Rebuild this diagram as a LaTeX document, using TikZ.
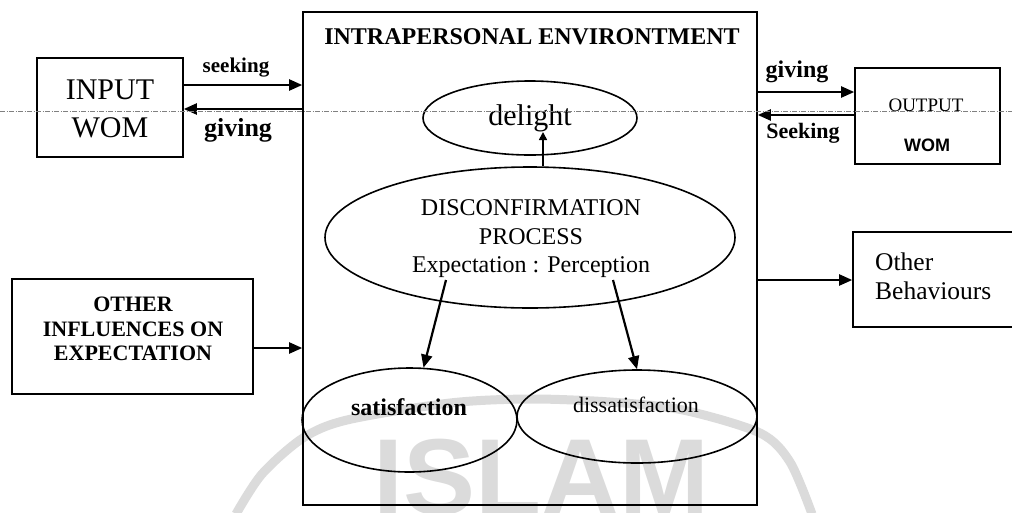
\documentclass[tikz,border=0pt]{standalone}
\usepackage{fontspec}
\setmainfont{Liberation Serif}
\newfontfamily\sansfam{Liberation Sans}
\usetikzlibrary{arrows.meta,shapes.geometric}
\begin{document}
\begin{tikzpicture}[x=1pt,y=-1pt,
  box/.style={draw,line width=1.6pt,rectangle,inner sep=0pt},
  oval/.style={draw,line width=1.6pt,ellipse,inner sep=0pt},
  txt/.style={inner sep=0pt,align=center},
  arr/.style={line width=2.2pt,-{Triangle[length=13pt,width=11pt]}},
  smallarr/.style={line width=1.6pt,-{Triangle[length=8pt,width=8pt]}},
  sealmark/.style={black!14}]
\useasboundingbox (0,0) rectangle (1012,512);

% faint seal in the background
\node[sealmark,inner sep=0pt,anchor=base,font=\sansfam\bfseries\fontsize{108}{108}\selectfont] (seal) at (541,514) {ISLAM};
\draw[sealmark,line width=9pt] plot[smooth] coordinates {(236,514) (262,474) (303,438) (347,420) (450,403) (530,399) (610,402) (683,410) (760,433) (790,462) (812,514)};

% central frame
\node[box,minimum width=454pt,minimum height=493pt] (main) at (530,258.5) {};
\node[txt,font=\bfseries\fontsize{24}{28}\selectfont] (title) at (532,37) {INTRAPERSONAL ENVIRONTMENT};

% outer boxes
\node[box,minimum width=146pt,minimum height=99pt] (input) at (110,107.5) {};
\node[txt,font=\fontsize{30}{38}\selectfont] (inputtxt) at (110,109) {INPUT\\WOM};

\node[box,minimum width=145pt,minimum height=96pt] (output) at (927.5,116) {};
\node[txt,font=\fontsize{19}{19}\selectfont] (outtop) at (926,105) {OUTPUT};
\node[txt,font=\sansfam\bfseries\fontsize{18}{18}\selectfont] (outbot) at (927,145) {WOM};

\node[box,minimum width=241pt,minimum height=115pt] (other) at (132.5,336.5) {};
\node[txt,font=\bfseries\fontsize{22}{24.5}\selectfont] (othertxt) at (133,329) {OTHER\\INFLUENCES ON\\EXPECTATION};

% this box runs on past the right edge of the page
\node[box,minimum width=167pt,minimum height=95pt] (beh) at (936.5,279.5) {};
\node[txt,align=left,anchor=west,font=\fontsize{25.5}{29}\selectfont] (behtxt) at (875,276) {Other\\Behaviours};

% ellipses inside the frame
\node[oval,minimum width=214pt,minimum height=74pt,font=\fontsize{30}{30}\selectfont] (delight) at (530,118) {delight};
\node[oval,minimum width=410pt,minimum height=141pt] (disc) at (530,237.5) {};
\node[txt,font=\fontsize{24}{28.5}\selectfont] (disctxt) at (531,239) {DISCONFIRMATION\\PROCESS\\Expectation : Perception};
\node[oval,minimum width=215pt,minimum height=104pt] (sat) at (409.5,420) {};
\node[txt,font=\bfseries\fontsize{24}{24}\selectfont] (sattxt) at (409,407) {satisfaction};
\node[oval,minimum width=240pt,minimum height=93pt] (dis) at (637,416.5) {};
\node[txt,font=\fontsize{22}{22}\selectfont] (distxt) at (636,405) {dissatisfaction};

% levels of the horizontal connectors
\coordinate (ys1) at (0,85);
\coordinate (ys2) at (0,109);
\coordinate (ys3) at (0,92);
\coordinate (ys4) at (0,115);
\coordinate (ys5) at (0,348);
\coordinate (ys6) at (0,280);

\draw[arr] (input.east |- ys1) -- (main.west |- ys1);
\draw[arr] (main.west |- ys2) -- (input.east |- ys2);
\node[txt,font=\bfseries\fontsize{21}{21}\selectfont] (lseek) at (236,68) {seeking};
\node[txt,font=\bfseries\fontsize{26}{26}\selectfont] (lgive) at (238,130) {giving};

\draw[arr] (main.east |- ys3) -- (output.west |- ys3);
\draw[arr] (output.west |- ys4) -- (main.east |- ys4);
\node[txt,font=\bfseries\fontsize{24}{24}\selectfont] (rgive) at (797,72) {giving};
\node[txt,font=\bfseries\fontsize{22}{22}\selectfont] (rseek) at (803,133) {Seeking};

\draw[arr] (other.east |- ys5) -- (main.west |- ys5);
\draw[arr] (main.east |- ys6) -- (beh.west |- ys6);

% arrows out of the disconfirmation process
\coordinate (dtip) at (543,132);
\draw[smallarr] (dtip |- disc.north) -- (dtip);
\coordinate (e1) at (446,280);
\coordinate (e2) at (613,280);
\draw[arr] (e1) -- (sat.75);
\draw[arr] (e2) -- (dis.north);

% scanner streak
\draw[black!50,line width=0.5pt,dash pattern=on 5pt off 1.5pt on 1pt off 1.5pt] (0,111) -- (1012,111);
\end{tikzpicture}
\end{document}
